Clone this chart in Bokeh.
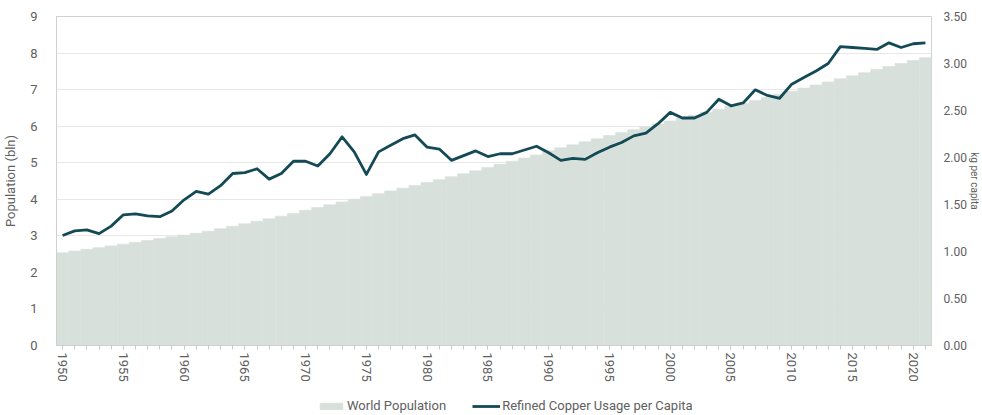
from bokeh.plotting import figure
from bokeh.layouts import column
from bokeh.models import (Range1d, LinearAxis, FixedTicker, NumeralTickFormatter,
                          Legend, LegendItem)
from bokeh.embed import file_html
from bokeh.resources import INLINE

years = list(range(1950, 2022))

population_bln = [
    2.536, 2.584, 2.631, 2.677, 2.725, 2.773, 2.823, 2.874, 2.925, 2.972,
    3.019, 3.068, 3.127, 3.195, 3.263, 3.330, 3.398, 3.468, 3.537, 3.608,
    3.700, 3.775, 3.850, 3.925, 4.000, 4.079, 4.154, 4.229, 4.303, 4.379,
    4.458, 4.536, 4.617, 4.698, 4.778, 4.870, 4.955, 5.041, 5.127, 5.213,
    5.327, 5.410, 5.492, 5.573, 5.654, 5.744, 5.824, 5.904, 5.983, 6.062,
    6.143, 6.222, 6.301, 6.381, 6.460, 6.542, 6.623, 6.705, 6.788, 6.872,
    6.957, 7.041, 7.126, 7.211, 7.296, 7.380, 7.464, 7.548, 7.631, 7.713,
    7.795, 7.875,
]

copper_kg_per_capita = [
    1.17, 1.22, 1.23, 1.19, 1.27, 1.39, 1.40, 1.38, 1.37, 1.43,
    1.55, 1.64, 1.61, 1.70, 1.83, 1.84, 1.88, 1.77, 1.83, 1.96,
    1.96, 1.91, 2.04, 2.22, 2.06, 1.82, 2.06, 2.13, 2.20, 2.24,
    2.11, 2.09, 1.97, 2.02, 2.07, 2.01, 2.04, 2.04, 2.08, 2.12,
    2.05, 1.97, 1.99, 1.98, 2.05, 2.11, 2.16, 2.23, 2.26, 2.36,
    2.48, 2.42, 2.42, 2.48, 2.62, 2.55, 2.58, 2.72, 2.66, 2.63,
    2.78, 2.85, 2.92, 3.00, 3.18, 3.17, 3.16, 3.15, 3.22, 3.17,
    3.21, 3.22,
]

left_ticks = list(range(0, 10))
right_ticks = [0.0, 0.5, 1.0, 1.5, 2.0, 2.5, 3.0, 3.5]
year_ticks = list(range(1950, 2021, 5))

FONT = "Roboto"
TXT = "#606060"
AREA = "#d8e0dc"
LINE = "#134a55"
NAN = float("nan")

p = figure(width=982, height=394, output_backend="svg", toolbar_location=None,
           x_range=Range1d(1949.5, 2021.5), y_range=Range1d(0, 9),
           min_border_left=55, min_border_top=16, min_border_right=50,
           min_border_bottom=49)
p.extra_y_ranges = {"cu": Range1d(0, 3.5)}

bars = p.vbar(x=years, top=population_bln, width=1.0, fill_color=AREA,
              line_color=AREA, line_width=0.6)
ln = p.line(x=years, y=copper_kg_per_capita, y_range_name="cu",
            line_color=LINE, line_width=2.8, line_join="round")

p.outline_line_color = "#d0d0d0"
p.outline_line_width = 1
p.background_fill_color = "white"
p.border_fill_color = "white"

p.xgrid.visible = False
p.ygrid.grid_line_color = "#e8e8e8"
p.ygrid.grid_line_width = 1
p.ygrid.ticker = FixedTicker(ticks=left_ticks)

# left axis
la = p.yaxis[0]
la.ticker = FixedTicker(ticks=left_ticks)
la.axis_label = "Population (bln)"
la.axis_label_text_font = FONT
la.axis_label_text_font_size = "13px"
la.axis_label_text_font_style = "normal"
la.axis_label_text_color = TXT
la.axis_label_standoff = 9
la.major_label_text_font = FONT
la.major_label_text_font_size = "13px"
la.major_label_text_color = TXT
la.major_tick_line_color = None
la.minor_tick_line_color = None
la.axis_line_color = "#d0d0d0"
la.major_label_standoff = 13

# bottom axis
xa = p.xaxis[0]
xa.ticker = FixedTicker(ticks=year_ticks, minor_ticks=years)
xa.major_label_orientation = "vertical"
xa.major_label_text_font = FONT
xa.major_label_text_font_size = "13px"
xa.major_label_text_color = TXT
xa.axis_line_color = "#d0d0d0"
xa.major_tick_line_color = "#c8c8c8"
xa.minor_tick_line_color = "#c8c8c8"
xa.major_tick_in = 0
xa.major_tick_out = 4
xa.minor_tick_in = 0
xa.minor_tick_out = 4
xa.major_label_standoff = 3

# right axis
ra = LinearAxis(y_range_name="cu", ticker=FixedTicker(ticks=right_ticks),
                formatter=NumeralTickFormatter(format="0.00"))
ra.axis_label = "kg per capita"
ra.axis_label_text_font = FONT
ra.axis_label_text_font_size = "10px"
ra.axis_label_text_font_style = "normal"
ra.axis_label_text_color = TXT
ra.axis_label_standoff = -1
ra.major_label_text_font = FONT
ra.major_label_text_font_size = "12px"
ra.major_label_text_color = TXT
ra.major_tick_line_color = None
ra.minor_tick_line_color = None
ra.major_tick_in = 0
ra.major_tick_out = 0
ra.minor_tick_in = 0
ra.minor_tick_out = 0
ra.axis_line_color = None
ra.major_label_standoff = 12
p.add_layout(ra, "right")

# legend strip below the chart (frames are aligned with the chart above)
lg = figure(width=982, height=21, output_backend="svg", toolbar_location=None,
            x_range=Range1d(0, 1), y_range=Range1d(0, 1),
            x_axis_location=None, y_axis_location=None,
            min_border=0, outline_line_color=None)
lg.xgrid.visible = False
lg.ygrid.visible = False
pop_key = lg.vbar(x=[NAN], top=[NAN], width=1.0, fill_color=AREA, line_color=AREA)
cu_key = lg.line(x=[NAN], y=[NAN], line_color=LINE, line_width=2.8)

legend = Legend(items=[LegendItem(label="World Population", renderers=[pop_key]),
                       LegendItem(label="Refined Copper Usage per Capita", renderers=[cu_key])],
                orientation="horizontal", location=(261, 2),
                glyph_width=28, glyph_height=8, label_standoff=2, spacing=26,
                padding=0, margin=0, border_line_color=None,
                background_fill_alpha=0,
                label_text_font=FONT, label_text_font_size="13px",
                label_text_color=TXT)
lg.add_layout(legend, "center")

layout = column(p, lg, spacing=0)
open("out.html", "w").write(file_html(layout, INLINE))
